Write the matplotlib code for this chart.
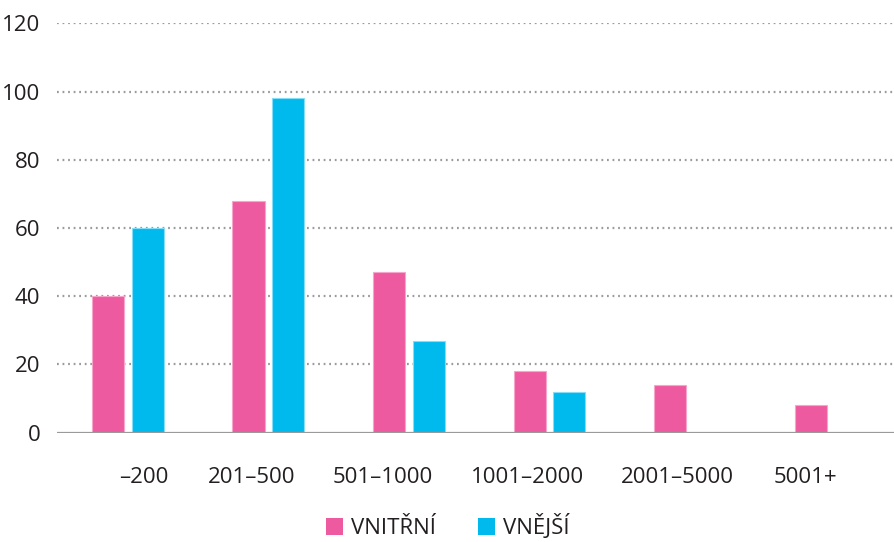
import numpy as np
import matplotlib
matplotlib.use("Agg")
import matplotlib.pyplot as plt
from matplotlib.patches import Patch

# data
categories = ["\u2013200", "201\u2013500", "501\u20131000", "1001\u20132000", "2001\u20135000", "5001+"]
vnitrni = [40, 68, 47, 18, 14, 8]
vnejsi = [60, 98, 27, 12, np.nan, np.nan]
series_names = ["VNITŘNÍ", "VNĚJŠÍ"]
yticks = [0, 20, 40, 60, 80, 100, 120]

# label shift (labels in the source are laid out as flowing text, not centred on groups)
label_shift = [0.11, -0.12, -0.19, -0.16, -0.09, -0.18]

pink = "#EE5A9F"
blue = "#00BAEE"
text_col = "#231F20"
grid_col = "#9A9A9A"

plt.rcParams["font.family"] = ["Open Sans", "DejaVu Sans"]

fig = plt.figure(figsize=(8.95, 5.42), dpi=100)
ax = fig.add_axes([57 / 895, 1 - 432.7 / 542, 1 - 57 / 895, (432.7 - 23.3) / 542])

x = np.arange(len(categories))
w = 0.228
off = 0.142
ax.bar(x - off, vnitrni, w, color=pink, edgecolor="#F7A6CB", linewidth=0.8, zorder=3)
ax.bar(x + off, vnejsi, w, color=blue, edgecolor="#86DDF7", linewidth=0.8, zorder=3)

ax.set_xlim(-0.505, 5.459)
ax.set_ylim(0, 120)
ax.set_yticks(yticks)
ax.set_yticklabels([str(t) for t in yticks], fontsize=16, color=text_col)
ax.tick_params(axis="y", length=0, pad=12)
ax.set_xticks([])

# dotted grid
for t in yticks[1:]:
    ax.axhline(t, color=grid_col, linewidth=1.6, linestyle=(0, (0.8, 1.7)), zorder=1)
ax.axhline(0, color=grid_col, linewidth=1.6, zorder=4)

for s in ax.spines.values():
    s.set_visible(False)

# category labels
for i, lab in enumerate(categories):
    ax.text(i + label_shift[i], -0.083, lab, transform=ax.get_xaxis_transform(),
            ha="center", va="top", fontsize=16, color=text_col)

# legend
handles = [Patch(facecolor=pink, edgecolor="none"), Patch(facecolor=blue, edgecolor="none")]
leg = fig.legend(handles, series_names, loc="upper left", bbox_to_anchor=(326 / 895, 1 - 514 / 542),
                 ncol=2, frameon=False, fontsize=16, handlelength=0.77, handleheight=0.77,
                 handletextpad=0.35, columnspacing=1.9, borderpad=0, borderaxespad=0)
for t in leg.get_texts():
    t.set_color(text_col)

fig.savefig("out.png", dpi=100)
